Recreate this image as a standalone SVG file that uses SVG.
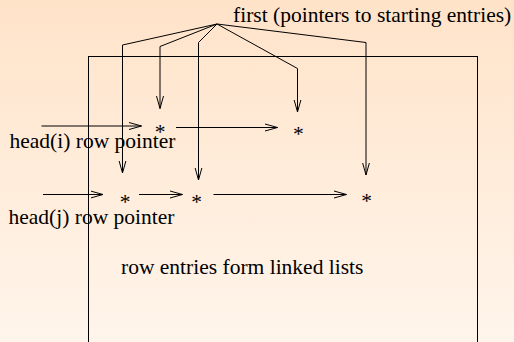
<svg xmlns="http://www.w3.org/2000/svg" width="514" height="342" viewBox="0 0 514 342">
<defs>
<linearGradient id="bg" x1="0" y1="0" x2="0" y2="1">
<stop offset="0" stop-color="#FFE3C9"/>
<stop offset="1" stop-color="#FFF5EB"/>
</linearGradient>
<marker id="ah" markerUnits="userSpaceOnUse" markerWidth="14" markerHeight="9" refX="12.5" refY="4" orient="auto" viewBox="0 0 14 8">
<path d="M0,0.5 L12.5,4 L0,7.5" fill="none" stroke="#000" stroke-width="1"/>
</marker>
</defs>
<style>
text{font-family:"Liberation Serif","Times New Roman",serif;font-size:21.5px;fill:#000}
.c{fill:none;stroke:#000;stroke-width:1}
.star{text-anchor:middle}
</style>
<rect width="514" height="342" fill="url(#bg)"/>
<g id="frame">
<rect x="88.5" y="56.5" width="389" height="300" class="c"/>
</g>
<g id="connectors">
<path class="c" d="M217,24 L122.5,45 L122.5,173" marker-end="url(#ah)"/>
<path class="c" d="M217,24 L160,46.5 L160,108.5" marker-end="url(#ah)"/>
<path class="c" d="M217,24 L198.5,42.5 L198.5,180" marker-end="url(#ah)"/>
<path class="c" d="M217,24 L297.5,68.5 L297.5,112" marker-end="url(#ah)"/>
<path class="c" d="M217,24 L366,42.5 L366,175" marker-end="url(#ah)"/>
<path class="c" d="M41.5,126 L141.5,126" marker-end="url(#ah)"/>
<path class="c" d="M176,127.5 L277.5,127.5" marker-end="url(#ah)"/>
<path class="c" d="M43,194.5 L103,194.5" marker-end="url(#ah)"/>
<path class="c" d="M139,194.5 L182.5,194.5" marker-end="url(#ah)"/>
<path class="c" d="M213.5,194.5 L346.5,194.5" marker-end="url(#ah)"/>
</g>
<g id="first"><text x="233" y="22">first (pointers to starting entries)</text></g>
<g id="head-i"><text x="9.5" y="147.5">head(i) row pointer</text></g>
<g id="head-j"><text x="8.5" y="224">head(j) row pointer</text></g>
<g id="caption"><text x="121" y="273.7">row entries form linked lists</text></g>
<g id="entry-i1"><text class="star" x="160" y="139.4">*</text></g>
<g id="entry-i2"><text class="star" x="298.3" y="140.6">*</text></g>
<g id="entry-j1"><text class="star" x="125" y="209.2">*</text></g>
<g id="entry-j2"><text class="star" x="196.7" y="209.2">*</text></g>
<g id="entry-j3"><text class="star" x="366.7" y="207.6">*</text></g>
</svg>
